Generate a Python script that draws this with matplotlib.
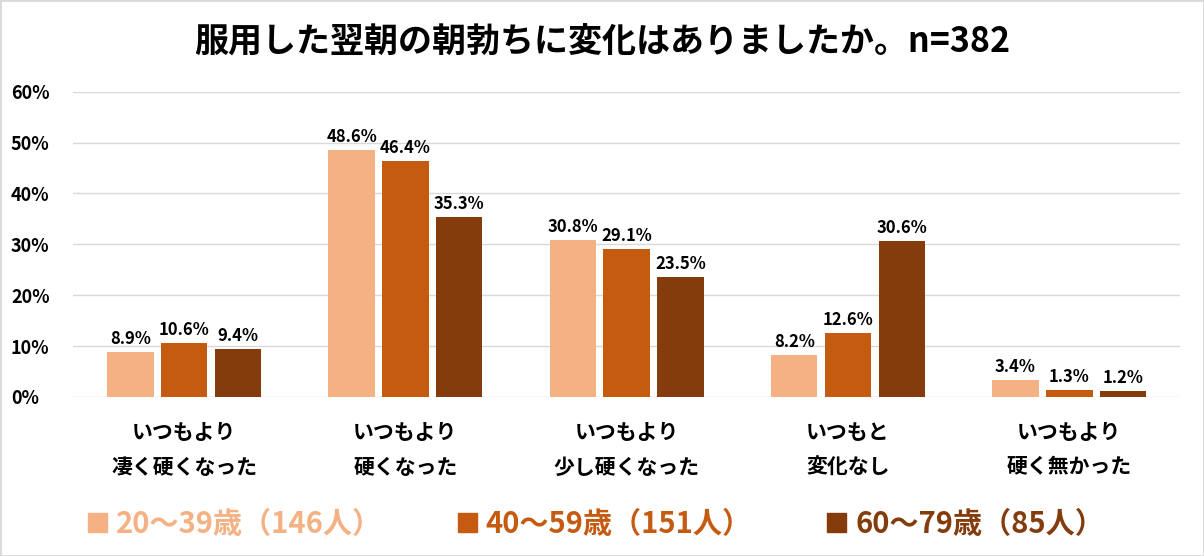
import matplotlib.pyplot as plt
import matplotlib.patches as mpatches
import numpy as np

plt.rcParams['font.family'] = ['Noto Sans CJK JP', 'DejaVu Sans']

categories = ['いつもより\n凄く硬くなった', 'いつもより\n硬くなった', 'いつもより\n少し硬くなった',
              'いつもと\n変化なし', 'いつもより\n硬く無かった']
series_names = ['20～39歳（146人）', '40～59歳（151人）', '60～79歳（85人）']
age20 = [8.9, 48.6, 30.8, 8.2, 3.4]
age40 = [10.6, 46.4, 29.1, 12.6, 1.3]
age60 = [9.4, 35.3, 23.5, 30.6, 1.2]
colors = ['#F4B183', '#C55A11', '#843C0C']
yticks = [0, 10, 20, 30, 40, 50, 60]

fig = plt.figure(figsize=(12.04, 5.56), dpi=100)
ax = fig.add_axes([0.061, 0.286, 0.919, 0.549])

x = np.arange(len(categories))
w = 0.21
step = 0.243
for i, (vals, c) in enumerate(zip([age20, age40, age60], colors)):
    pos = x + (i - 1) * step
    ax.bar(pos, vals, width=w, color=c, label=series_names[i], zorder=3)
    for p, v in zip(pos, vals):
        ax.text(p, v + 0.8, f'{v:.1f}%', ha='center', va='bottom',
                fontsize=12, fontweight='bold', zorder=4)

ax.set_xlim(-0.5, len(categories) - 0.5)
ax.set_ylim(0, 60)
ax.set_yticks(yticks)
ax.set_yticklabels([f'{t}%' for t in yticks], fontsize=13, fontweight='bold')
ax.yaxis.grid(True, color='#D9D9D9', linewidth=1, zorder=0)
ax.set_xticks(x)
ax.set_xticklabels(categories, fontsize=15, fontweight='bold', linespacing=1.8)
ax.tick_params(axis='both', length=0)
ax.tick_params(axis='x', pad=18)
ax.tick_params(axis='y', pad=45)
for lab in ax.get_yticklabels():
    lab.set_horizontalalignment('left')
for s in ax.spines.values():
    s.set_visible(False)

fig.text(0.5, 0.924, '服用した翌朝の朝勃ちに変化はありましたか。n=382',
         ha='center', va='center', fontsize=24.5, fontweight='bold')

handles = [mpatches.Patch(color=c) for c in colors]
leg = fig.legend(handles, series_names, loc='center', bbox_to_anchor=(0.495, 0.058),
                 ncol=3, frameon=False, handlelength=0.65, handleheight=0.65,
                 handletextpad=0.3, columnspacing=2.6,
                 prop={'size': 21, 'weight': 'bold'})
for t, c in zip(leg.get_texts(), colors):
    t.set_color(c)

fig.patches.append(mpatches.Rectangle((0, 0), 1, 1, transform=fig.transFigure,
                                      fill=False, edgecolor='#D9D9D9', linewidth=2))

fig.savefig('out.png', dpi=100)
